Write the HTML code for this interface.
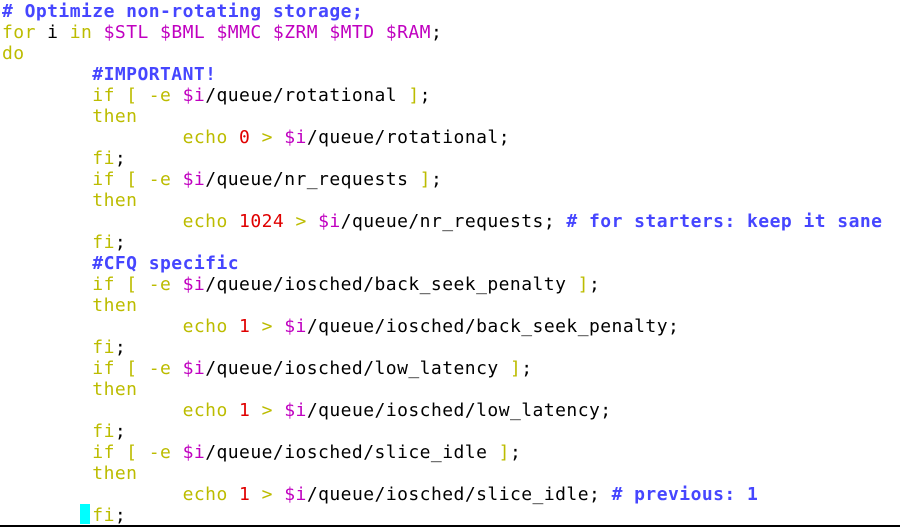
<!DOCTYPE html>
<html><head><meta charset="utf-8"><style>
html,body{margin:0;padding:0;background:#fff;width:900px;height:527px;overflow:hidden;position:relative}
pre{margin:0;position:absolute;left:2px;top:1px;font-family:"DejaVu Sans Mono","Liberation Mono",monospace;font-size:18px;letter-spacing:0.45px;line-height:21px;color:#000}
.c{color:#4646ff;font-weight:bold}
.k{color:#bcbc00}
.v{color:#c000c0}
.n{color:#e00000}
#cur{position:absolute;left:80px;top:504px;width:10px;height:20px;background:#00ffff}
#bar{position:absolute;left:0;top:525px;width:900px;height:2px;background:#000}
</style></head><body>
<div id="cur"></div>
<pre><span class="c"># Optimize non-rotating storage;</span>
<span class="k">for</span> i <span class="k">in</span> <span class="v">$STL $BML $MMC $ZRM $MTD $RAM</span>;
<span class="k">do</span>
        <span class="c">#IMPORTANT!</span>
        <span class="k">if [ -e</span> <span class="v">$i</span>/queue/rotational <span class="k">]</span>;
        <span class="k">then</span>
                <span class="k">echo</span> <span class="n">0</span> <span class="k">&gt;</span> <span class="v">$i</span>/queue/rotational;
        <span class="k">fi</span>;
        <span class="k">if [ -e</span> <span class="v">$i</span>/queue/nr_requests <span class="k">]</span>;
        <span class="k">then</span>
                <span class="k">echo</span> <span class="n">1024</span> <span class="k">&gt;</span> <span class="v">$i</span>/queue/nr_requests; <span class="c"># for starters: keep it sane</span>
        <span class="k">fi</span>;
        <span class="c">#CFQ specific</span>
        <span class="k">if [ -e</span> <span class="v">$i</span>/queue/iosched/back_seek_penalty <span class="k">]</span>;
        <span class="k">then</span>
                <span class="k">echo</span> <span class="n">1</span> <span class="k">&gt;</span> <span class="v">$i</span>/queue/iosched/back_seek_penalty;
        <span class="k">fi</span>;
        <span class="k">if [ -e</span> <span class="v">$i</span>/queue/iosched/low_latency <span class="k">]</span>;
        <span class="k">then</span>
                <span class="k">echo</span> <span class="n">1</span> <span class="k">&gt;</span> <span class="v">$i</span>/queue/iosched/low_latency;
        <span class="k">fi</span>;
        <span class="k">if [ -e</span> <span class="v">$i</span>/queue/iosched/slice_idle <span class="k">]</span>;
        <span class="k">then</span>
                <span class="k">echo</span> <span class="n">1</span> <span class="k">&gt;</span> <span class="v">$i</span>/queue/iosched/slice_idle; <span class="c"># previous: 1</span>
        <span class="k">fi</span>;</pre>
<div id="bar"></div>
</body></html>
